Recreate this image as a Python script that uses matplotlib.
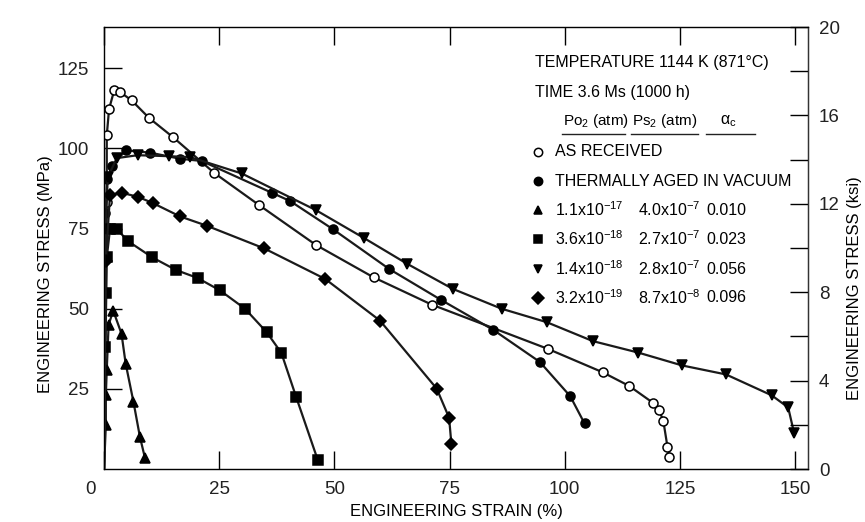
import numpy as np
import matplotlib
matplotlib.use("Agg")
import matplotlib.pyplot as plt
import matplotlib.transforms as mtransforms
from matplotlib.lines import Line2D

plt.rcParams['font.family'] = ['Liberation Sans', 'DejaVu Sans']
plt.rcParams['mathtext.fontset'] = 'custom'
plt.rcParams['mathtext.rm'] = 'Liberation Sans'
plt.rcParams['mathtext.it'] = 'Liberation Sans'
plt.rcParams['mathtext.default'] = 'regular'

# --- data (strain %, stress MPa) ---
asr_strain = [0, 0.6, 0.6, 1.1, 2.2, 3.5, 6.0, 9.8, 15.0, 23.9, 33.6, 46.0, 58.5,
              71.1, 96.3, 108.2, 114.0, 119.1, 120.5, 121.4, 122.3, 122.7]
asr_stress = [0, 83.4, 104.1, 112.3, 118.1, 117.6, 115.0, 109.5, 103.5, 92.4, 82.4,
              69.9, 59.8, 51.3, 37.5, 30.2, 25.9, 20.7, 18.3, 15.0, 6.9, 3.8]

aged_strain = [0, 0.3, 0.7, 1.7, 4.7, 10.0, 16.5, 21.2, 36.4, 40.4, 49.7, 61.9,
               73.1, 84.5, 94.6, 101.2, 104.3]
aged_stress = [0, 80.0, 90.4, 94.5, 99.4, 98.7, 96.8, 96.1, 86.2, 83.6, 74.8, 62.4,
               52.8, 43.4, 33.4, 22.7, 14.2]

tri_strain = [0, 0.4, 0.4, 0.6, 1.0, 2.0, 3.8, 4.7, 6.4, 7.8, 8.9]
tri_stress = [0, 13.7, 23.0, 31.0, 45.0, 49.4, 42.2, 32.9, 20.9, 10.0, 3.4]

sq_strain = [0, 0.3, 0.5, 0.6, 1.3, 2.8, 5.3, 10.5, 15.6, 20.3, 25.2, 30.6,
             35.3, 38.5, 41.7, 46.4]
sq_stress = [0, 38.0, 55.0, 66.0, 74.8, 74.8, 71.0, 66.0, 62.1, 59.6, 55.7, 50.0,
             42.7, 36.2, 22.5, 2.8]

inv_strain = [0, 0.4, 0.8, 2.8, 7.3, 14.0, 18.7, 29.9, 45.95, 56.5, 65.7, 75.7,
              86.3, 96.1, 106.1, 116.0, 125.5, 135.0, 144.9, 148.5, 149.8]
inv_stress = [0, 75.0, 91.0, 97.0, 97.9, 97.6, 97.3, 92.2, 80.8, 72.0, 64.1, 56.2,
              50.0, 45.8, 39.9, 36.3, 32.3, 29.5, 23.0, 19.2, 11.1]

dia_strain = [0, 0.4, 1.3, 3.8, 7.4, 10.7, 16.5, 22.3, 34.8, 48.0, 59.9, 72.2,
              74.9, 75.4]
dia_stress = [0, 65.0, 85.5, 86.2, 84.9, 82.9, 78.8, 75.9, 68.8, 59.3, 46.3, 25.1,
              16.0, 7.8]

x_ticks = [0, 25, 50, 75, 100, 125, 150]
y_ticks = [25, 50, 75, 100, 125]
ksi_major = [0, 4, 8, 12, 16, 20]
ksi_minor = [2, 6, 10, 14, 18]
MPA_PER_KSI = 6.895

series = [
    (asr_strain, asr_stress, 'o', 'white', 6.5),
    (aged_strain, aged_stress, 'o', 'black', 6.5),
    (tri_strain, tri_stress, '^', 'black', 6.5),
    (sq_strain, sq_stress, 's', 'black', 6.5),
    (inv_strain, inv_stress, 'v', 'black', 6.5),
    (dia_strain, dia_stress, 'D', 'black', 6.5),
]

legend_rows = [
    ('o', 'white', 'AS RECEIVED', None, None),
    ('o', 'black', 'THERMALLY AGED IN VACUUM', None, None),
    ('^', 'black', r'1.1x10$^{-17}$', r'4.0x10$^{-7}$', '0.010'),
    ('s', 'black', r'3.6x10$^{-18}$', r'2.7x10$^{-7}$', '0.023'),
    ('v', 'black', r'1.4x10$^{-18}$', r'2.8x10$^{-7}$', '0.056'),
    ('D', 'black', r'3.2x10$^{-19}$', r'8.7x10$^{-8}$', '0.096'),
]

W, H = 865, 522


def fx(px):
    return px / W


def fy(py):
    return 1 - py / H


fig = plt.figure(figsize=(8.65, 5.22), dpi=100)
ax = fig.add_axes([fx(104), fy(469), fx(808) - fx(104), fy(27) - fy(469)])

for xs, ys, m, fc, ms in series:
    ax.plot(xs, ys, '-', color='#1a1a1a', lw=1.6, marker=m, mfc=fc, mec='black',
            mew=1.1, ms=ms, markevery=slice(1, None))

ax.set_xlim(0, 152.8)
ax.set_ylim(0, 20 * MPA_PER_KSI)
ax.set_xticks(x_ticks)
ax.set_yticks(y_ticks)
ax.tick_params(direction='in', length=13, width=1, labelsize=13.5, pad=9,
               top=True, labelcolor='#222')
ax.tick_params(axis='y', pad=11)
for s in ax.spines.values():
    s.set_linewidth(1.0)
    s.set_color('#333')

# the "0" strain label sits left of the axis in the original
lab0 = ax.get_xticklabels()[0]
lab0.set_transform(lab0.get_transform() +
                   mtransforms.ScaledTranslation(-0.14, 0, fig.dpi_scale_trans))

ax.set_xlabel('ENGINEERING STRAIN (%)', fontsize=12, labelpad=4)
ax.set_ylabel('ENGINEERING STRESS (MPa)', fontsize=12)
ax.yaxis.set_label_coords(-0.072, 0.44)

ax2 = ax.twinx()
ax2.set_ylim(0, 20)
ax2.set_yticks(ksi_major)
ax2.set_yticks(ksi_minor, minor=True)
ax2.tick_params(axis='y', which='both', direction='in', length=13, width=1,
                labelsize=13.5, pad=8, labelcolor='#222')
ax2.set_ylabel('ENGINEERING STRESS (ksi)', fontsize=12)
ax2.yaxis.set_label_coords(1.056, 0.41)
ax2.spines['right'].set_color('#333')

# annotation block
fs = 11.5
fig.text(fx(535), fy(62), 'TEMPERATURE 1144 K (871°C)', fontsize=fs, va='center')
fig.text(fx(535), fy(93), 'TIME 3.6 Ms (1000 h)', fontsize=fs, va='center')
fig.text(fx(563), fy(121), r'Po$_2$ (atm)', fontsize=11, va='center')
fig.text(fx(632), fy(121), r'Ps$_2$ (atm)', fontsize=11, va='center')
fig.text(fx(720), fy(121), r'α$_c$', fontsize=fs, va='center')
for x0, x1 in [(562, 625), (631, 698), (706, 755)]:
    fig.add_artist(Line2D([fx(x0), fx(x1)], [fy(134), fy(134)], color='#222', lw=1.0))

row_y = [152, 181, 210, 239, 269, 298]
for yy, (m, fc, c1, c2, c3) in zip(row_y, legend_rows):
    fig.add_artist(Line2D([fx(538)], [fy(yy)], marker=m, mfc=fc, mec='black',
                          mew=1.1, ms=6, ls='none'))
    fig.text(fx(555), fy(yy), c1, fontsize=fs, va='center')
    if c2:
        fig.text(fx(638), fy(yy), c2, fontsize=fs, va='center')
        fig.text(fx(706), fy(yy), c3, fontsize=fs, va='center')

fig.savefig('out.png', dpi=100, facecolor='white')
